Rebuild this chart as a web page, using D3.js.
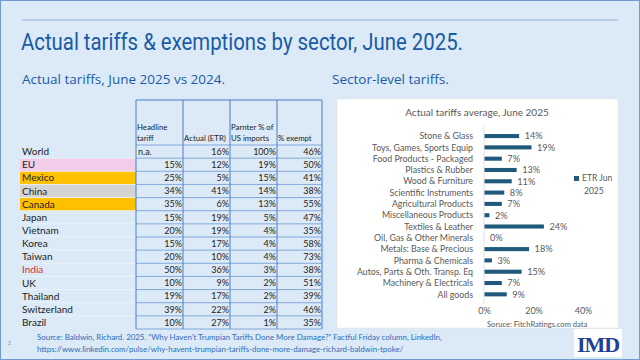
<!DOCTYPE html>
<html>
<head>
<meta charset="utf-8">
<script src="https://cdn.jsdelivr.net/npm/d3@7"></script>
<style>
  body { margin: 0; background: #fff; }
  svg { display: block; }
</style>
</head>
<body>
<div id="chart"></div>
<script>
// table data
var countries = ["World", "EU", "Mexico", "China", "Canada", "Japan", "Vietnam", "Korea", "Taiwan", "India", "UK", "Thailand", "Switzerland", "Brazil"]
var headline = [null, 15, 25, 34, 35, 15, 20, 15, 20, 50, 10, 19, 39, 10]
var actualEtr = [16, 12, 5, 41, 6, 19, 19, 17, 10, 36, 9, 17, 22, 27]
var importShare = [100, 19, 15, 14, 13, 5, 4, 4, 4, 3, 2, 2, 2, 1]
var exempt = [46, 50, 41, 38, 55, 47, 35, 58, 73, 38, 51, 39, 46, 35]
var rowFill = { "EU": "#f2cdea", "Mexico": "#ffc000", "China": "#d4d4d4", "Canada": "#ffc000" }

// sector chart data
var sectors = ["Stone & Glass", "Toys, Games, Sports Equip", "Food Products - Packaged", "Plastics & Rubber", "Wood & Furniture", "Scientific Instruments", "Agricultural Products", "Miscellaneous Products", "Textiles & Leather", "Oil, Gas & Other Minerals", "Metals: Base & Precious", "Pharma & Chemicals", "Autos, Parts & Oth. Transp. Eq", "Machinery & Electricals", "All goods"]
var etrJun = [14, 19, 7, 13, 11, 8, 7, 2, 24, 0, 18, 3, 15, 7, 9]
var xTicks = [0, 20, 40]

var W = 640, H = 360
var blue = "#1c5aa6"
var font = "Lato, 'Open Sans', sans-serif"

var svg = d3.select("#chart").append("svg")
    .attr("width", W).attr("height", H)
    .style("font-family", font)

svg.append("rect").attr("x", 0.5).attr("y", 0.5).attr("width", W - 1).attr("height", H - 1)
    .attr("fill", "#dbeaf6").attr("stroke", "#6f9bd0")

svg.append("line").attr("x1", 22).attr("x2", 618).attr("y1", 20).attr("y2", 20)
    .attr("stroke", "#93afd2").attr("stroke-width", 1)

svg.append("text").attr("x", 21).attr("y", 50)
    .attr("fill", blue).style("font-family", "Roboto, sans-serif")
    .style("font-size", "23px")
    .attr("textLength", 442).attr("lengthAdjust", "spacingAndGlyphs")
    .text("Actual tariffs & exemptions by sector, June 2025.")

svg.append("text").attr("x", 22).attr("y", 84)
    .attr("fill", blue).style("font-family", "'Open Sans', sans-serif").style("font-size", "13.5px")
    .text("Actual tariffs, June 2025 vs 2024.")

svg.append("text").attr("x", 332).attr("y", 84)
    .attr("fill", blue).style("font-family", "'Open Sans', sans-serif").style("font-size", "13.5px")
    .text("Sector-level tariffs.")

// ---------- table ----------
var colX = [20, 136, 183, 230, 277, 322]
var y = d3.scaleBand().domain(countries).range([145, 329])
var tbl = svg.append("g")

tbl.selectAll(".fill")
    .data(countries.filter(function(d) { return rowFill[d] }))
    .enter().append("rect")
    .attr("x", colX[0]).attr("y", function(d) { return y(d) })
    .attr("width", colX[1] - colX[0]).attr("height", y.bandwidth())
    .attr("fill", function(d) { return rowFill[d] })

// row separators
tbl.selectAll(".hl")
    .data(countries.slice(1))
    .enter().append("line")
    .attr("x1", colX[0]).attr("x2", colX[1])
    .attr("y1", function(d) { return y(d) }).attr("y2", function(d) { return y(d) })
    .attr("stroke", "#eef5fb").attr("stroke-width", 0.8)
tbl.selectAll(".hd")
    .data(countries.concat(["end"]))
    .enter().append("line")
    .attr("x1", colX[1]).attr("x2", colX[5])
    .attr("y1", function(d) { return d == "end" ? 329 : y(d) })
    .attr("y2", function(d) { return d == "end" ? 329 : y(d) })
    .attr("stroke", "#6d98d4").attr("stroke-width", 0.8)
tbl.append("line").attr("x1", colX[1]).attr("x2", colX[5]).attr("y1", 100).attr("y2", 100)
    .attr("stroke", "#4a7cc6").attr("stroke-width", 1)
tbl.selectAll(".vl")
    .data(colX.slice(1))
    .enter().append("line")
    .attr("x1", function(d) { return d }).attr("x2", function(d) { return d })
    .attr("y1", 100).attr("y2", 329)
    .attr("stroke", "#4a7cc6").attr("stroke-width", 1)

// header text
var headers = [["Headline", "tariff"], ["", "Actual (ETR)"], ["Parnter % of", "US imports"], ["", "% exempt"]]
headers.forEach(function(h, i) {
    var t = tbl.append("text").attr("fill", "#222").style("font-size", "7.8px")
    t.append("tspan").attr("x", colX[i + 1] + 1).attr("y", 130).text(h[0])
    t.append("tspan").attr("x", colX[i + 1] + 1).attr("y", 141).text(h[1])
})

tbl.selectAll(".lab")
    .data(countries)
    .enter().append("text")
    .attr("x", colX[0] + 2)
    .attr("y", function(d) { return y(d) + y.bandwidth() / 2 + 3.6 })
    .attr("fill", function(d) { return d == "India" ? "#e0282e" : "#222" })
    .style("font-size", "10px")
    .text(function(d) { return d })

var cols = [headline, actualEtr, importShare, exempt]
cols.forEach(function(vals, ci) {
    tbl.selectAll(".v" + ci)
        .data(vals)
        .enter().append("text")
        .attr("x", function(d) { return d == null ? colX[ci + 1] + 2 : colX[ci + 2] - 1 })
        .attr("y", function(d, i) { return y(countries[i]) + y.bandwidth() / 2 + 3.3 })
        .attr("text-anchor", function(d) { return d == null ? "start" : "end" })
        .attr("fill", "#222")
        .style("font-size", "9px")
        .text(function(d) { return d == null ? "n.a." : d + "%" })
})

// ---------- sector chart ----------
var panel = svg.append("g")
panel.append("rect").attr("x", 337).attr("y", 99).attr("width", 281).attr("height", 229)
    .attr("fill", "#fff").attr("stroke", "#e4e4e4").attr("stroke-width", 0.5)

panel.append("text").attr("x", 477).attr("y", 116).attr("text-anchor", "middle")
    .attr("fill", "#595959").style("font-size", "10px")
    .text("Actual tariffs average, June 2025")

var x = d3.scaleLinear().domain([0, 40]).range([484, 583])
var ys = d3.scaleBand().domain(sectors).range([126.8, 303.6]).padding(0.64)

panel.append("line").attr("x1", x(0)).attr("x2", x(0)).attr("y1", 126).attr("y2", 304)
    .attr("stroke", "#d9d9d9").attr("stroke-width", 0.8)

panel.selectAll(".bar")
    .data(etrJun)
    .enter().append("rect")
    .attr("x", x(0) + 0.5)
    .attr("y", function(d, i) { return ys(sectors[i]) })
    .attr("width", function(d) { return x(d) - x(0) })
    .attr("height", ys.bandwidth())
    .attr("fill", "#1f5a7c")

panel.selectAll(".cat")
    .data(sectors)
    .enter().append("text")
    .attr("x", 473)
    .attr("y", function(d) { return ys(d) + ys.bandwidth() / 2 + 3.2 })
    .attr("text-anchor", "end")
    .attr("fill", "#595959")
    .style("font-size", "8.8px")
    .text(function(d) { return d })

panel.selectAll(".val")
    .data(etrJun)
    .enter().append("text")
    .attr("x", function(d) { return x(d) + 6 })
    .attr("y", function(d, i) { return ys(sectors[i]) + ys.bandwidth() / 2 + 3.3 })
    .attr("fill", "#595959")
    .style("font-size", "9.2px")
    .text(function(d) { return d + "%" })

var axis = panel.append("g")
    .attr("transform", "translate(0,303)")
    .call(d3.axisBottom(x).tickValues(xTicks).tickSize(0).tickPadding(5)
        .tickFormat(function(d) { return d + "%" }))
axis.select(".domain").remove()
axis.selectAll("text").attr("fill", "#595959").style("font-size", "9px").style("font-family", font)

panel.append("rect").attr("x", 574).attr("y", 176).attr("width", 5).attr("height", 5).attr("fill", "#1f5a7c")
panel.append("text").attr("x", 582).attr("y", 181).attr("fill", "#595959").style("font-size", "8.5px").text("ETR Jun")
panel.append("text").attr("x", 584).attr("y", 194).attr("fill", "#595959").style("font-size", "8.5px").text("2025")

panel.append("text").attr("x", 487).attr("y", 326.5)
    .attr("fill", "#595959").style("font-size", "7.6px")
    .text("Soruce: FitchRatings.com data")

// ---------- footer ----------
svg.append("text").attr("x", 8).attr("y", 345).attr("fill", "#6f8fb8").style("font-size", "5px").text("2")
svg.append("text").attr("x", 37).attr("y", 340).attr("fill", "#2e6cc0").style("font-size", "7.9px")
    .text("Source: Baldwin, Richard. 2025. \u201cWhy Haven\u2019t Trumpian Tariffs Done More Damage?\u201d Factful Friday column, LinkedIn,")
svg.append("text").attr("x", 37).attr("y", 352).attr("fill", "#2e6cc0").style("font-size", "7.9px")
    .text("https://www.linkedin.com/pulse/why-havent-trumpian-tariffs-done-more-damage-richard-baldwin-tpoke/")

svg.append("rect").attr("x", 574).attr("y", 329).attr("width", 48).attr("height", 28).attr("fill", "#fff")
svg.append("text").attr("x", 598).attr("y", 352).attr("text-anchor", "middle")
    .attr("fill", "#1f3f99").style("font-family", "'Liberation Serif', serif")
    .style("font-size", "22px").style("font-weight", "bold").style("letter-spacing", "-1px")
    .text("IMD")
</script>
</body>
</html>
